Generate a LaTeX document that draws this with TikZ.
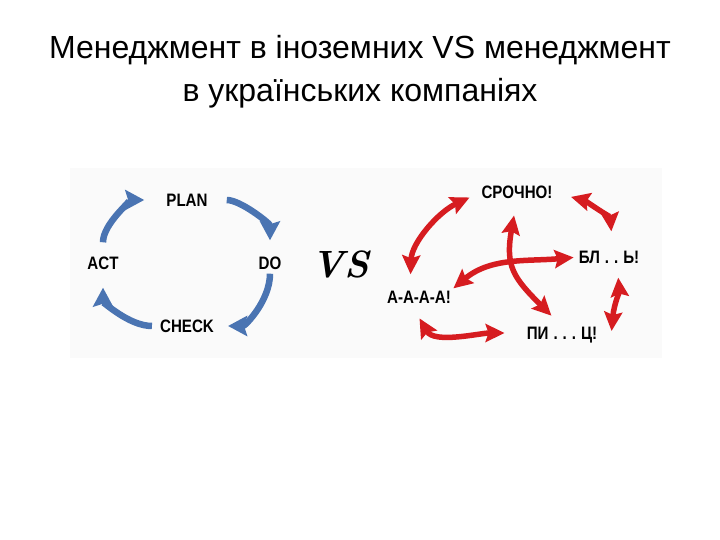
\documentclass[tikz,border=0pt]{standalone}
\usepackage{fontspec}
\setmainfont{Liberation Sans}
\newfontfamily\condfont[FakeStretch=0.84]{Liberation Sans}
\newfontfamily\handfont{Latin Modern Roman}
\usepackage{tikz}
\usetikzlibrary{arrows.meta,positioning}
\definecolor{pdcablue}{RGB}{74,116,178}
\definecolor{panicred}{RGB}{214,28,32}
\tikzset
{
    title/.style  = {font=\fontsize{32}{43}\selectfont, align=center},
    cyclelbl/.style = {font=\condfont\bfseries\fontsize{18}{18}\selectfont, inner sep=0pt, text height=13pt, text depth=0pt},
    paniclbl/.style = {font=\condfont\bfseries\fontsize{18}{18}\selectfont, inner sep=0pt, text height=13pt, text depth=0pt},
    bluearrow/.style = {draw=pdcablue, line width=6.5pt, -{Stealth[length=19pt,width=20pt,inset=3pt]}},
    redarrow/.style  = {draw=panicred, line width=5.5pt, {Stealth[length=19pt,width=18pt,inset=3pt]}-{Stealth[length=19pt,width=18pt,inset=3pt]}}
}

\begin{document}
\begin{tikzpicture}[x=1pt,y=1pt]
		\useasboundingbox[fill=white] (0,0) rectangle (720,540);
		\fill[black!2] (70,182) rectangle (662,372);
		
		\node[title] (head) at (360,468) {Менеджмент в іноземних VS менеджмент\\в українських компаніях};
		
		\node[cyclelbl] (plan) at (187,340) {PLAN};
		\node[cyclelbl] (do) at (270,277) {DO};
		\node[cyclelbl] (check) at (187,214) {CHECK};
		\node[cyclelbl] (act) at (103,277) {ACT};
		
		\draw[bluearrow, shorten <=14pt, shorten >=22pt] (act.north) to[out=90,in=180] (plan.west);
		\draw[bluearrow, shorten <=19pt, shorten >=16pt] (plan.east) to[out=0,in=90] (do.north);
		\draw[bluearrow, shorten <=4pt, shorten >=14pt] (do.south) to[out=-90,in=0] (check.east);
		\draw[bluearrow, shorten <=8pt, shorten >=18pt] (check.west) to[out=180,in=-90] (act.south);
		
		\node[font=\handfont\itshape\bfseries\fontsize{38}{38}\selectfont] (vs) at (340,276) {VS};
		
		\node[paniclbl] (srochno) at (517,348) {СРОЧНО!};
		\node[paniclbl] (bl) at (609,283) {БЛ\;.\;.\;Ь!};
		\node[paniclbl] (aaaa) at (419,243) {А-А-А-А!};
		\node[paniclbl] (piz) at (562,207) {ПИ\;.\;.\;.\;Ц!};
		
		\draw[redarrow, shorten <=16pt, shorten >=13pt] ([xshift=-9pt]aaaa.north) to[out=88,in=205] (srochno.west);
		\draw[redarrow, shorten <=19pt, shorten >=19pt] (srochno.east) to[out=-15,in=95] ([xshift=4pt]bl.north);
		\draw[redarrow, shorten <=14pt, shorten >=2pt] ([xshift=8pt]bl.south) to[out=-85,in=85] ([xshift=14pt]piz.east);
		\draw[redarrow, shorten <=17pt, shorten >=22pt] ([xshift=-8pt]aaaa.south) to[out=-60,in=180] (piz.west);
		\draw[redarrow, shorten <=17pt, shorten >=15pt] (srochno.south) to[out=-100,in=135,looseness=1.3] (piz.north);
		\draw[redarrow, shorten <=3pt, shorten >=5pt] (aaaa.north east) to[out=40,in=185] (bl.west);
		
\end{tikzpicture}
\end{document}
